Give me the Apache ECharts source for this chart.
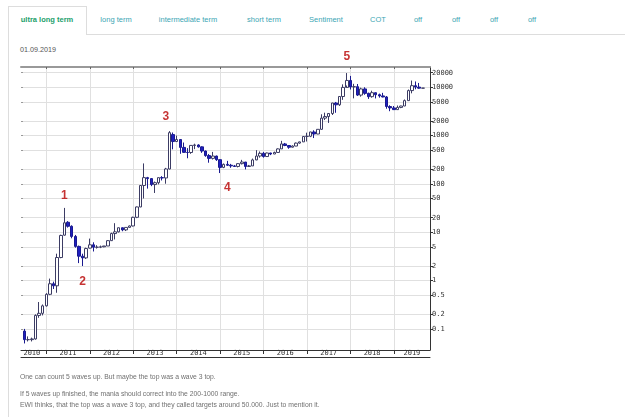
<!DOCTYPE html>
<html>
<head>
<meta charset="utf-8">
<script src="https://cdn.jsdelivr.net/npm/echarts@6/dist/echarts.min.js"></script>
<style>
body { margin:0; width:625px; height:417px; background:#fff; position:relative; overflow:hidden;
       font-family:"Liberation Sans", Arial, sans-serif; }
#main { position:absolute; left:0; top:0; width:625px; height:417px; }
.tabbox { position:absolute; left:8px; top:6px; width:77px; height:28px; border:1px solid #ddd; border-bottom:none; }
.tabline { position:absolute; left:86px; top:34px; width:539px; border-top:1px solid #ddd; }
.panel { position:absolute; left:8px; top:34px; height:383px; border-left:1px solid #ddd; }
.tab { position:absolute; top:15px; font-size:7.5px; color:#3ba6b4; white-space:nowrap; transform:translateX(-50%); }
.tab.active { color:#21a06b; font-weight:bold; }
.date { position:absolute; left:20px; top:45px; font-size:7.2px; color:#555; }
.note { position:absolute; left:20px; font-size:6.8px; color:#707070; white-space:nowrap; }
</style>
</head>
<body>
<div class="tabbox"></div>
<div class="tabline"></div>
<div class="panel"></div>
<div class="tab active" style="left:47px">ultra long term</div>
<div class="tab" style="left:116px">long term</div>
<div class="tab" style="left:188px">intermediate term</div>
<div class="tab" style="left:264px">short term</div>
<div class="tab" style="left:326px">Sentiment</div>
<div class="tab" style="left:378px">COT</div>
<div class="tab" style="left:418px">off</div>
<div class="tab" style="left:456px">off</div>
<div class="tab" style="left:494px">off</div>
<div class="tab" style="left:532px">off</div>
<div class="date">01.09.2019</div>
<div id="main"></div>
<div class="note" style="top:373px">One can count 5 waves up. But maybe the top was a wave 3 top.</div>
<div class="note" style="top:390px">If 5 waves up finished, the mania should correct into the 200-1000 range.</div>
<div class="note" style="top:401px">EWI thinks, that the top was a wave 3 top, and they called targets around 50.000. Just to mention it.</div>
<script>
// monthly candles, Jul 2010 .. Sep 2019
var firstMonth = '2010-07';
var opens = [
  0.09, 0.06, 0.06, 0.062, 0.19, 0.21,
  0.30, 0.52, 0.86, 0.78, 3.0, 8.7, 16.1, 13.3, 8.2, 5.1, 3.2, 2.95,
  4.7, 5.5, 4.9, 4.9, 5.0, 5.2, 6.7, 9.4, 10.2, 12.4, 11.2, 12.6,
  13.5, 20.4, 33.4, 93, 135, 129, 97, 106, 135, 133, 204, 1050,
  754, 830, 570, 450, 447, 627, 640, 585, 480, 386, 338, 378,
  318, 220, 254, 244, 236, 230, 263, 284, 230, 236, 314, 378,
  430, 369, 437, 416, 448, 531, 673, 624, 575, 608, 700, 742,
  963, 970, 1190, 1080, 1350, 2300, 2480, 2870, 4730, 4340, 6450, 9950,
  13850, 10200, 10300, 6900, 9250, 7500, 6400, 7730, 7030, 6630, 6310, 4000,
  3740, 3450, 3830, 4100, 5300, 8550, 10800, 10100, 9600
];
var highs = [
  0.10, 0.07, 0.066, 0.20, 0.36, 0.32,
  0.55, 1.10, 0.95, 3.6, 8.9, 31.9, 17.0, 13.9, 8.8, 5.3, 3.6, 4.8,
  7.4, 6.2, 5.4, 5.3, 5.2, 6.9, 9.8, 15.4, 12.5, 12.5, 12.6, 13.8,
  21, 34, 95, 266, 140, 130, 112, 135, 145, 215, 1240, 1160,
  1000, 850, 720, 550, 630, 680, 660, 600, 490, 415, 460, 385,
  320, 265, 300, 260, 247, 268, 315, 285, 247, 335, 500, 470,
  460, 445, 440, 466, 545, 780, 705, 625, 630, 720, 750, 975,
  1150, 1200, 1290, 1350, 2760, 2980, 2900, 4770, 4980, 6470, 11500, 19700,
  17200, 11800, 11700, 9800, 10000, 7750, 8500, 7780, 7400, 7680, 6600, 4250,
  4100, 4200, 4150, 5600, 9000, 13800, 13200, 12300, 9650
];
var lows = [
  0.05, 0.055, 0.055, 0.06, 0.17, 0.19,
  0.29, 0.50, 0.67, 0.56, 2.9, 8.5, 12.5, 7.5, 4.8, 2.3, 2.0, 2.8,
  4.6, 4.0, 4.6, 4.7, 4.9, 5.2, 6.6, 7.1, 9.9, 10.5, 10.6, 12.6,
  13.2, 19.6, 33, 50, 80, 90, 65, 98, 118, 101, 200, 520,
  740, 420, 440, 340, 420, 525, 565, 440, 365, 275, 320, 300,
  168, 212, 235, 216, 225, 220, 253, 200, 225, 236, 310, 350,
  350, 366, 395, 415, 440, 530, 605, 535, 570, 605, 680, 740,
  755, 930, 890, 1070, 1320, 2100, 1830, 2670, 2970, 4110, 5500, 10900,
  9000, 5900, 6600, 6400, 7000, 5750, 6100, 5880, 6100, 6200, 3600, 3200,
  3400, 3400, 3700, 4080, 5300, 7500, 9100, 9350, 9600
];
var closes = [
  0.06, 0.06, 0.062, 0.19, 0.21, 0.30,
  0.52, 0.86, 0.78, 3.0, 8.6, 15.7, 13.3, 8.2, 5.1, 3.2, 2.95, 4.6,
  5.5, 4.9, 4.9, 5.0, 5.2, 6.7, 9.4, 10.2, 12.4, 11.2, 12.6, 13.5,
  20.4, 33.4, 93, 135, 129, 97, 106, 135, 133, 204, 1150, 754,
  830, 570, 450, 447, 627, 640, 585, 480, 386, 338, 378, 318,
  220, 254, 244, 236, 230, 263, 284, 230, 236, 314, 378, 430,
  369, 437, 416, 448, 531, 673, 624, 575, 608, 700, 742, 960,
  970, 1190, 1080, 1350, 2300, 2480, 2870, 4730, 4340, 6450, 9950, 13850,
  10200, 10300, 6900, 9250, 7500, 6400, 7730, 7030, 6630, 6310, 4000, 3740,
  3450, 3830, 4100, 5300, 8550, 10800, 10100, 9600, 9620
];

var yTicks = [0.1, 0.2, 0.5, 1, 2, 5, 10, 20, 50, 100, 200, 500, 1000, 2000, 5000, 10000, 20000];
var yMin = 0.0366, yMax = 26300;

// Elliott wave marks: month, level of the label, text
var waveMonths = ['2011-06', '2011-11', '2013-10', '2015-03', '2017-12'];
var waveLevels = [57, 0.95, 2440, 85, 42400];
var waveTexts = ['1', '2', '3', '4', '5'];

var months = [];
for (var y = 2010; y <= 2019; y++) {
    for (var m = 1; m <= 12; m++) {
        var s = y + '-' + (m < 10 ? '0' : '') + m;
        if (s >= '2010-06' && s <= '2019-11') months.push(s);
    }
}

function lg(v) { return Math.log(v) / Math.LN10; }

var start = months.indexOf(firstMonth);
var candles = months.map(function (mm, i) {
    var k = i - start;
    if (k < 0 || k >= opens.length) return ['-', '-', '-', '-'];
    return [lg(opens[k]), lg(closes[k]), lg(lows[k]), lg(highs[k])];
});

var waves = waveMonths.map(function (mm, i) {
    return { name: waveTexts[i], value: [mm, lg(waveLevels[i])] };
});

// year labels sit in the middle of the visible months of each year
var yearMid = {};
for (var yy = 2010; yy <= 2019; yy++) {
    var inYear = months.filter(function (mm) { return mm.slice(0, 4) == String(yy); });
    yearMid[inYear[Math.floor(inYear.length / 2)]] = true;
}
function isJan(idx, val) { return val.slice(5) == '01'; }
function isMid(idx, val) { return !!yearMid[val]; }

var tickLogs = yTicks.map(lg);
var axisFont = { fontFamily: 'DejaVu Sans Mono', fontSize: 7, color: '#333' };

var myChart = echarts.init(document.getElementById('main'));
var option = {
    animation: false,
    grid: { left: 21, right: 195, top: 67, bottom: 67 },
    xAxis: [{
        type: 'category', data: months, boundaryGap: false,
        axisLine: { onZero: false, lineStyle: { color: '#333', width: 1 } },
        axisTick: { interval: isJan, length: 4, lineStyle: { color: '#333' } },
        axisLabel: Object.assign({ interval: isMid, margin: 0, formatter: function (v) { return v.slice(0, 4); } }, axisFont),
        splitLine: { show: true, interval: isJan, lineStyle: { color: '#e0e0e0' } }
    }, {
        type: 'category', data: months, boundaryGap: false, position: 'top',
        axisLine: { onZero: false, lineStyle: { color: '#999', width: 2 } },
        axisTick: { interval: isJan, inside: true, length: 2, lineStyle: { color: '#666' } },
        axisLabel: { show: false }, splitLine: { show: false }
    }, {
        type: 'category', data: months, boundaryGap: false, position: 'bottom', offset: 7,
        axisLine: { onZero: false, lineStyle: { color: '#333', width: 1 } },
        axisTick: { show: false }, axisLabel: { show: false }, splitLine: { show: false }
    }],
    yAxis: [{
        type: 'value', position: 'right', min: lg(yMin), max: lg(yMax),
        axisLine: { show: true, onZero: false, lineStyle: { color: '#333' } },
        axisTick: { show: true, customValues: tickLogs, length: 3, lineStyle: { color: '#333' } },
        axisLabel: Object.assign({
            customValues: tickLogs, margin: 2,
            formatter: function (v) { return String(Number(Math.pow(10, v).toPrecision(3))); }
        }, axisFont),
        splitLine: { show: true, lineStyle: { color: '#e0e0e0' } }
    }, {
        type: 'value', position: 'left', min: lg(yMin), max: lg(yMax),
        axisLine: { show: false, onZero: false },
        axisTick: { show: true, inside: true, customValues: tickLogs, length: 2, lineStyle: { color: '#999' } },
        axisLabel: { show: false }, splitLine: { show: false }
    }],
    series: [{
        type: 'candlestick', xAxisIndex: 0, yAxisIndex: 0, data: candles, barWidth: 3,
        itemStyle: { color: '#ffffff', color0: '#1f1fbf', borderColor: '#3c3c64', borderColor0: '#1a1a90', borderWidth: 1 }
    }, {
        type: 'scatter', xAxisIndex: 0, yAxisIndex: 0, data: waves, symbolSize: 1, clip: false, silent: true,
        itemStyle: { color: 'rgba(0,0,0,0)' },
        label: { show: true, position: 'inside', formatter: function (p) { return p.name; },
                 color: '#b80000', fontSize: 12, fontWeight: 'bold', fontFamily: 'Liberation Sans' }
    }]
};
myChart.setOption(option);
</script>
</body>
</html>
